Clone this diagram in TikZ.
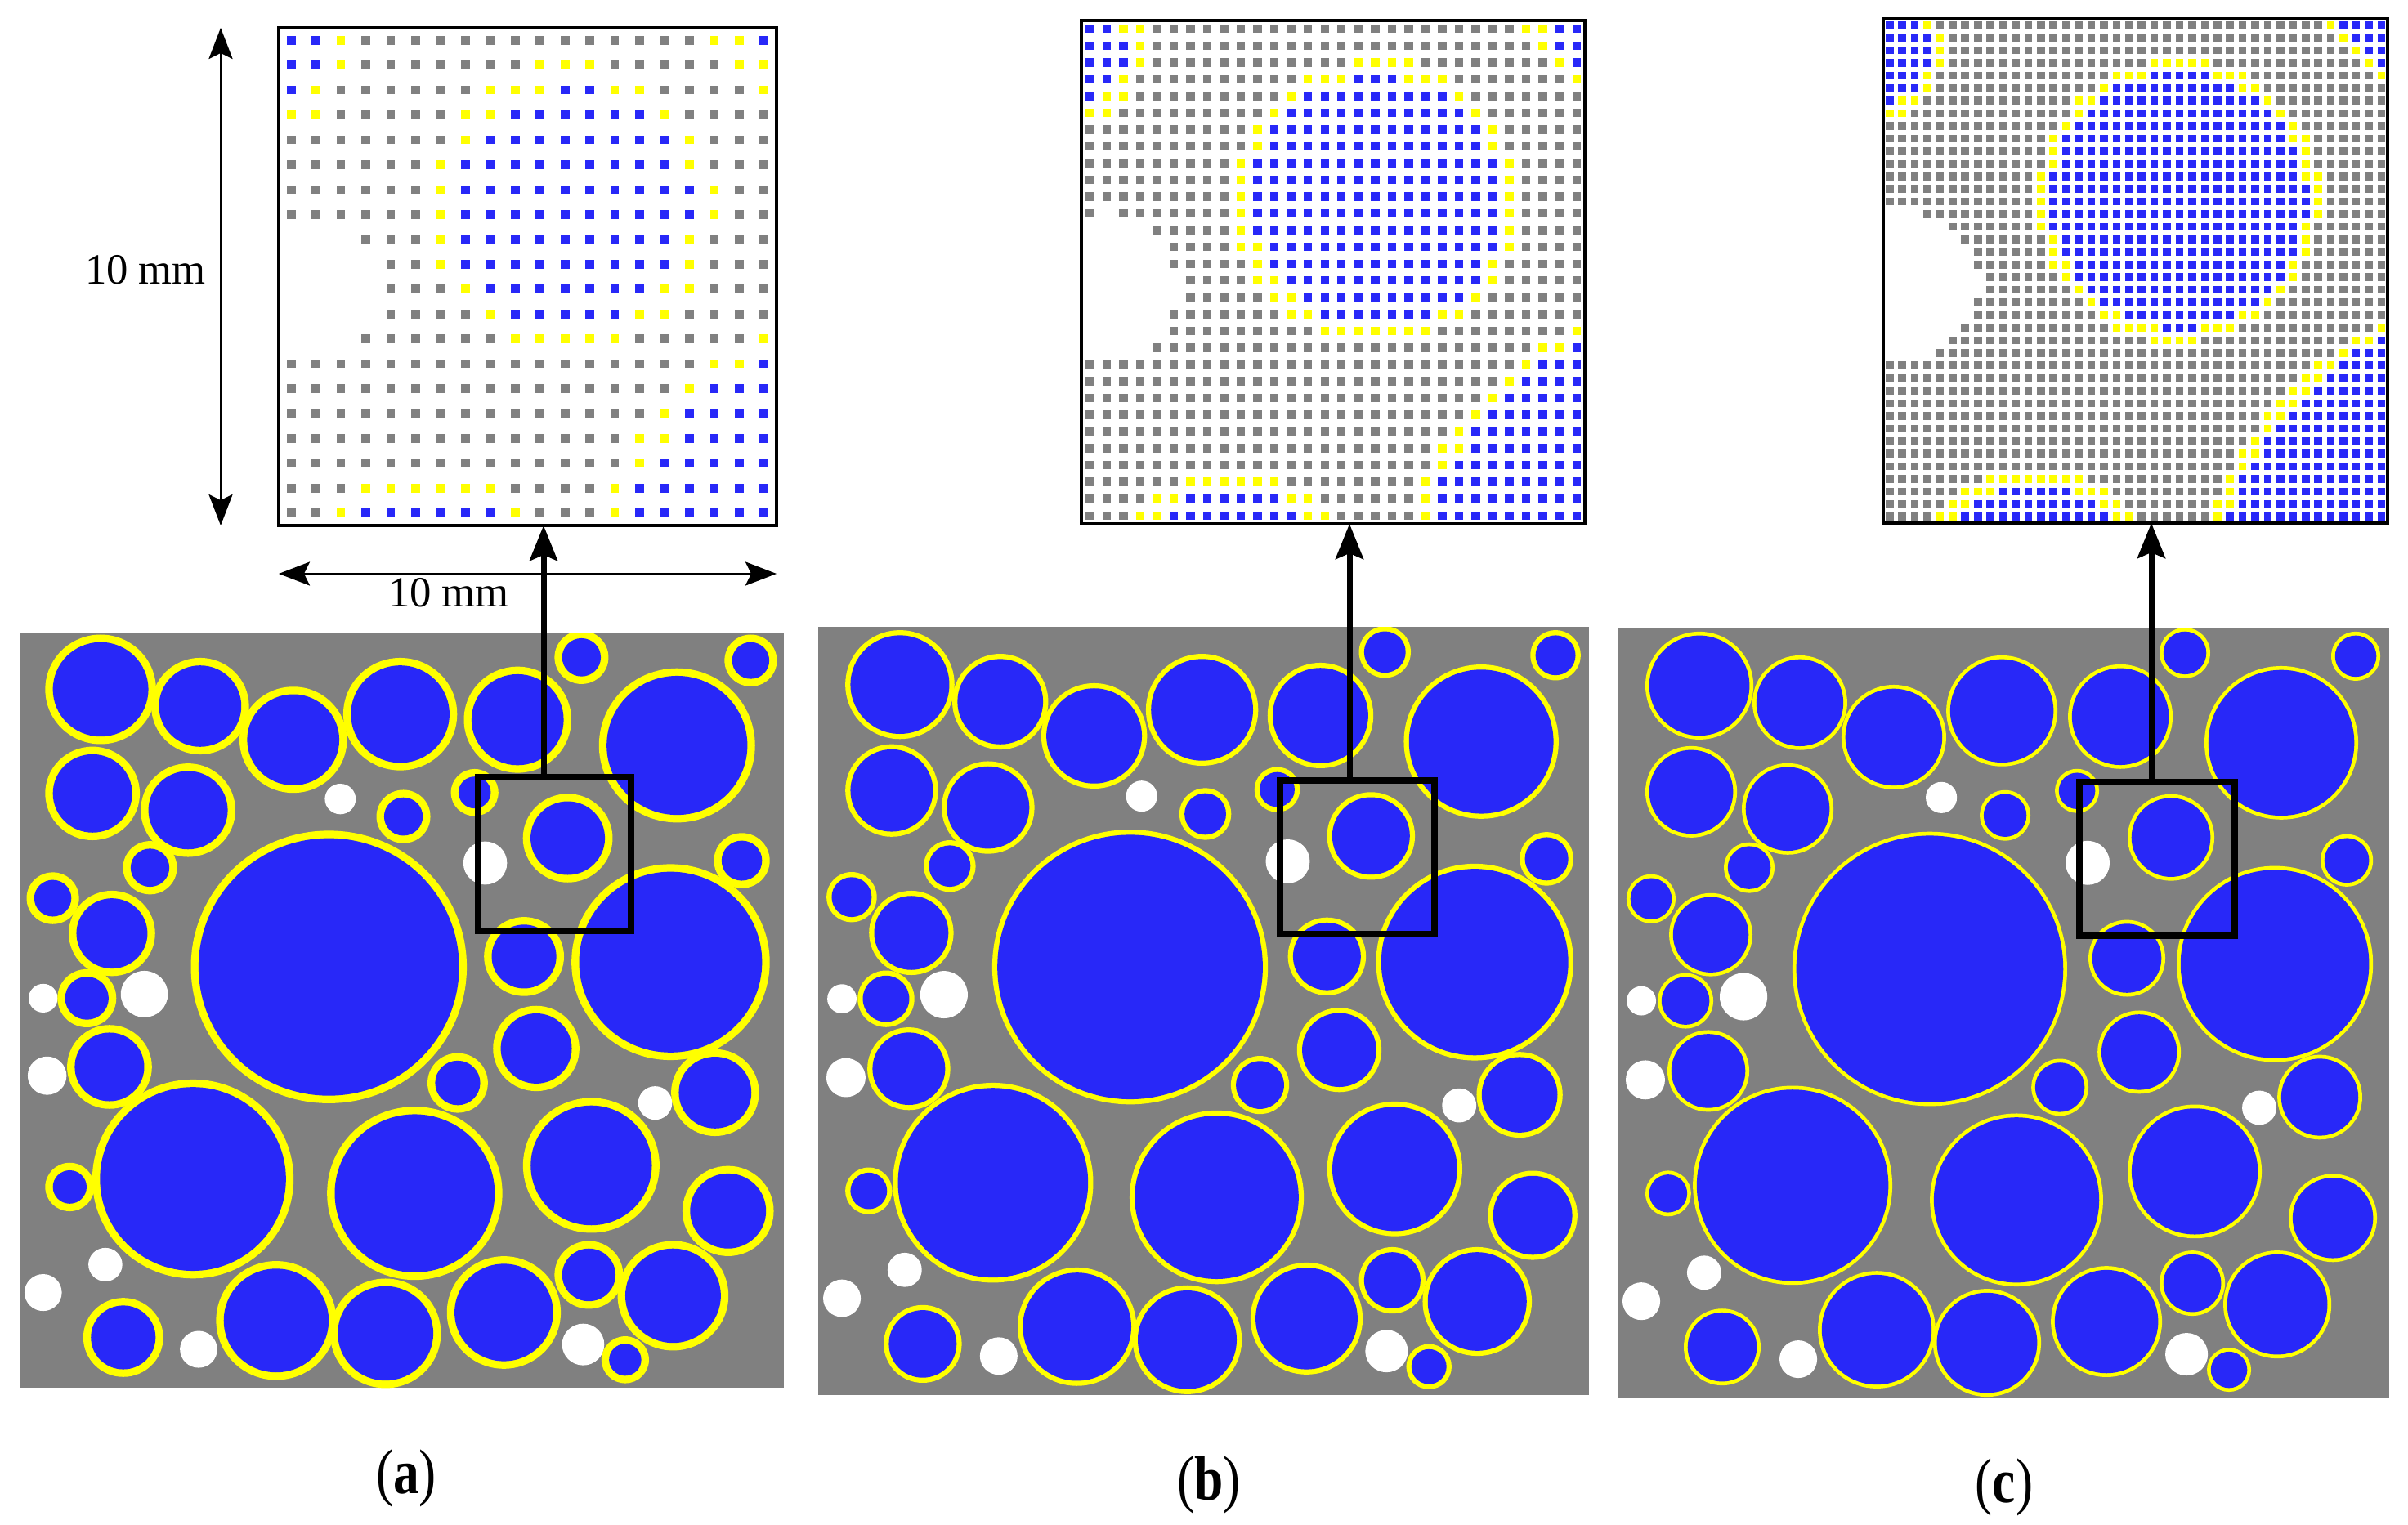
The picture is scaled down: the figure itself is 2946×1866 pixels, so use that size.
\documentclass[tikz,border=0pt]{standalone}
\usepackage{fontspec}
\setmainfont{Liberation Serif}
\usetikzlibrary{arrows.meta}
\definecolor{aggblue}{RGB}{40,40,248}
\definecolor{matgray}{RGB}{128,128,128}
\definecolor{itzyellow}{RGB}{255,255,0}

% aggregates: x/y/r in mm (panel is 50 x 50 mm, y downward)
\def\agglist{5.30/3.76/3.50, 11.81/4.87/3.07, 17.90/7.10/3.39, 24.90/5.40/3.60,
 4.77/10.65/2.97, 11.02/11.76/2.97, 8.53/15.57/1.64, 2.17/17.59/1.59, 6.04/19.92/2.70,
 4.40/24.21/1.80, 20.23/22.14/8.90, 5.88/28.76/2.65, 3.28/36.71/1.48, 11.34/36.18/6.46,
 6.78/46.67/2.49, 16.79/45.55/3.81, 23.94/46.40/3.50, 25.85/37.13/5.61, 28.66/29.82/1.85,
 33.80/27.54/2.70, 45.50/30.46/2.75, 37.40/35.28/4.34, 46.35/38.30/2.86, 31.68/45.02/3.60,
 37.24/42.53/2.12, 42.75/43.91/3.50, 39.62/48.15/1.43, 36.76/1.64/1.64, 47.83/1.85/1.59,
 43.01/7.47/4.98, 29.77/10.59/1.43, 25.11/12.18/1.64, 35.86/13.61/2.81, 47.25/15.10/1.70,
 42.59/21.82/6.36, 33.00/21.45/2.49, 32.58/5.77/3.39}
\def\voidlist{20.98/11.02/1.01, 1.54/24.21/0.95, 8.16/23.94/1.54, 1.80/29.34/1.27,
 5.61/41.85/1.11, 1.54/43.70/1.22, 11.71/47.46/1.22, 41.58/31.15/1.11, 36.87/47.14/1.38,
 30.46/15.26/1.43}
% only those near the zoom window (30..40 x 10..20 mm)
\def\boxaggs{29.77/10.59/1.43, 35.86/13.61/2.81, 43.01/7.47/4.98, 42.59/21.82/6.36,
 33.00/21.45/2.49, 32.58/5.77/3.39, 25.11/12.18/1.64}
\def\boxvoids{30.46/15.26/1.43}

\newcommand\classifycell[3]{%
  \gdef\cellclass{0}%
  \foreach \ccx/\ccy/\ccr in \boxvoids {%
    \pgfmathtruncatemacro\lv{veclen(#1-\ccx,#2-\ccy)<\ccr}%
    \ifnum\lv=1 \gdef\cellclass{1}\fi}%
  \foreach \ccx/\ccy/\ccr in \boxaggs {%
    \pgfmathsetmacro\dst{veclen(#1-\ccx,#2-\ccy)}%
    \pgfmathtruncatemacro\lv{\dst<\ccr-0.125-#3/2 ? 3 : (\dst<\ccr-0.125+#3/2 ? 2 : 0)}%
    \ifnum\lv>\cellclass\relax \xdef\cellclass{\lv}\fi}%
}

% #1 left, #2 top, #3 size (px), #4 cells, #5 cell size (mm), #6 square (px)
\newcommand\drawinset[6]{%
  \pgfmathsetmacro\cellpx{#3/#4}%
  \pgfmathtruncatemacro\nlast{#4-1}%
  \foreach \i in {0,...,\nlast}{%
    \foreach \j in {0,...,\nlast}{%
      \pgfmathsetmacro\pxm{30+(\i+0.5)*#5}%
      \pgfmathsetmacro\pym{10+(\j+0.5)*#5}%
      \classifycell{\pxm}{\pym}{#5}%
      \ifcase\cellclass\relax \def\cellcol{matgray}\or \def\cellcol{white}\or
        \def\cellcol{itzyellow}\or \def\cellcol{aggblue}\fi
      \ifnum\cellclass=1\relax\else
        \fill[\cellcol] ({#1+(\i+0.5)*\cellpx-#6/2},{#2+(\j+0.5)*\cellpx-#6/2}) rectangle ++(#6,#6);
      \fi
    }}%
}

% #1 left, #2 top, #3 width, #4 height (px), #5 cell size (mm)
\newcommand\drawpanel[5]{%
  \begin{scope}[shift={(#1,#2)},xscale=#3/50,yscale=#4/50]
    \begin{scope}
      \clip (0,0) rectangle (50,50);
      \fill[matgray] (0,0) rectangle (50,50);
      \foreach \ccx/\ccy/\ccr in \voidlist {\fill[white] (\ccx,\ccy) circle[radius=\ccr];}
      \foreach \ccx/\ccy/\ccr in \agglist {\fill[itzyellow] (\ccx,\ccy) circle[radius=\ccr-0.125+#5/2];}
      \foreach \ccx/\ccy/\ccr in \agglist {\fill[aggblue] (\ccx,\ccy) circle[radius=\ccr-0.125-#5/2];}
    \end{scope}
  \end{scope}}

\begin{document}
\begin{tikzpicture}[x=0.1mm,y=-0.1mm,
  zoombox/.style={draw=black,line width=0.85mm},
  insetframe/.style={draw=black,line width=0.4mm},
  uparrow/.style={line width=0.7mm,-{Stealth[length=4.3mm,width=3.4mm,inset=0.7mm]}},
  dimarrow/.style={line width=0.28mm,{Stealth[length=3.8mm,width=2.9mm,inset=0.7mm]}-{Stealth[length=3.8mm,width=2.9mm,inset=0.7mm]}},
  dimlabel/.style={font=\fontsize{15}{18}\selectfont,inner sep=0pt,anchor=base},
  sublabel/.style={font=\fontsize{22}{26}\selectfont,inner sep=0pt,anchor=base,xscale=0.82}]
\useasboundingbox (0,0) rectangle (2946,1866);

% bottom panels
\drawpanel{24}{774}{935}{924}{0.5}
\drawpanel{1001}{767}{943}{940}{0.333333}
\drawpanel{1979}{768}{944}{943}{0.25}

% zoom windows
\draw[zoombox] (585,951) rectangle (772,1139);
\draw[zoombox] (1566,955) rectangle (1755,1143);
\draw[zoombox] (2544,957) rectangle (2734,1145);

% insets
\drawinset{341}{34}{609}{20}{0.5}{10.7}
\drawinset{1323}{25}{616}{30}{0.333333}{10.4}
\drawinset{2304}{23}{617}{40}{0.25}{9.6}
\draw[insetframe] (341,34) rectangle (950,643);
\draw[insetframe] (1323,25) rectangle (1939,641);
\draw[insetframe] (2304,23) rectangle (2921,640);

% arrows from windows to insets
\coordinate (wa) at (665,947);  \coordinate (ia) at (665,643);
\coordinate (wb) at (1651,951); \coordinate (ib) at (1651,641);
\coordinate (wc) at (2632,953); \coordinate (ic) at (2632,640);
\draw[uparrow] (wa) -- (ia);
\draw[uparrow] (wb) -- (ib);
\draw[uparrow] (wc) -- (ic);

% dimensions
\coordinate (dvt) at (270,34);  \coordinate (dvb) at (270,643);
\coordinate (dhl) at (341,702); \coordinate (dhr) at (950,702);
\draw[dimarrow] (dvt) -- (dvb);
\draw[dimarrow] (dhl) -- (dhr);
\node[dimlabel] (lv) at (178,347) {10 mm};
\node[dimlabel] (lh) at (549,742) {10 mm};

% sub-figure labels
\node[sublabel] (la) at (497,1827) {(\textbf{a})};
\node[sublabel] (lb) at (1479,1835) {(\textbf{b})};
\node[sublabel] (lc) at (2452,1838) {(\textbf{c})};
\end{tikzpicture}
\end{document}
